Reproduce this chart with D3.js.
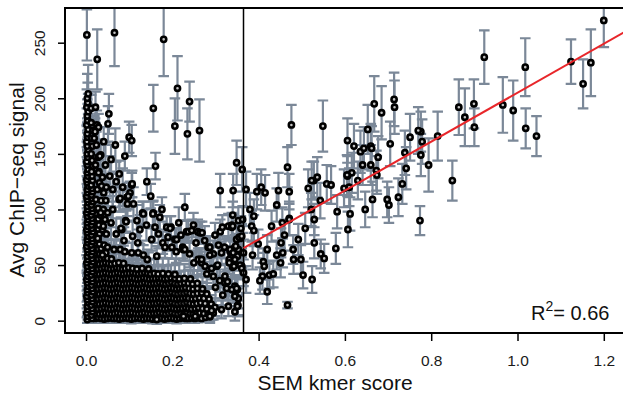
<!DOCTYPE html>
<html>
<head>
<meta charset="utf-8">
<script src="https://cdn.jsdelivr.net/npm/d3@7"></script>
<style>
  body { margin: 0; background: #fff; }
  svg { display: block; font-family: "Liberation Sans", Arial, Helvetica, sans-serif; }
</style>
</head>
<body>
<svg id="chart" width="623" height="393"></svg>
<script>
// each entry: [SEM kmer score, avg ChIP-seq signal, standard error]

// dense low-signal cluster, read row by row off the black mass
const massPts = [
  [0.021,2,4],[0.028,2.5,3],[0.035,2,4],[0.042,1.5,3],[0.049,2,4],[0.056,2.5,4],[0.063,2,3],[0.070,2,4],[0.077,1.5,3],[0.084,2,4],[0.091,2.5,4],[0.098,2,3],[0.105,1.5,4],[0.112,2,3],[0.119,2.5,4],[0.126,2,4],[0.133,1.5,3],[0.140,2,4],[0.147,2,3],[0.154,1.5,4],[0.161,2,4],[0.168,2.5,3],[0.175,2,4],[0.182,1.5,3],[0.189,2,4],[0.196,2.5,4],[0.203,2,3],[0.210,1.5,4],[0.217,2,4],[0.224,2.5,3],[0.231,2,4],[0.238,2,4],[0.245,2.5,3],[0.252,2,4],[0.260,2.5,4],[0.268,2,3],[0.277,3,4],[0.287,3.5,4],
  [0.024,6.5,5],[0.031,6,4],[0.038,6.5,5],[0.045,7,5],[0.052,6.5,4],[0.059,6,5],[0.066,6.5,5],[0.073,7,4],[0.080,6.5,5],[0.087,6,5],[0.094,6.5,4],[0.101,6.5,5],[0.108,7,5],[0.115,6.5,4],[0.122,6,5],[0.129,6.5,5],[0.136,7,4],[0.143,6.5,5],[0.150,6,5],[0.157,6.5,4],[0.164,6.5,5],[0.171,7,5],[0.178,6.5,4],[0.185,6,5],[0.192,6.5,5],[0.199,7,4],[0.206,6.5,5],[0.213,6,5],[0.220,6.5,4],[0.227,6.5,5],[0.234,7,5],[0.241,6.5,4],[0.248,6,5],[0.256,6.5,5],[0.264,7,5],[0.273,6.5,5],[0.283,6,5],[0.295,7,6],
  [0.021,11,6],[0.028,10.5,5],[0.035,11,6],[0.042,11.5,6],[0.049,11,5],[0.056,10.5,6],[0.063,11,6],[0.070,11.5,5],[0.077,11,6],[0.084,10.5,6],[0.091,11,5],[0.098,11,6],[0.105,11.5,6],[0.112,11,5],[0.119,10.5,6],[0.126,11,6],[0.133,11.5,5],[0.140,11,6],[0.147,10.5,6],[0.154,11,5],[0.161,11,6],[0.168,11.5,6],[0.175,11,5],[0.182,10.5,6],[0.189,11,6],[0.196,11.5,5],[0.203,11,6],[0.210,10.5,6],[0.217,11,5],[0.224,11,6],[0.231,11.5,6],[0.238,11,5],[0.245,10.5,6],[0.253,11,6],[0.261,11.5,6],[0.270,11,6],[0.280,10.5,6],
  [0.024,15.5,7],[0.031,15,6],[0.038,15.5,7],[0.045,16,7],[0.052,15.5,6],[0.059,15,7],[0.066,15.5,7],[0.073,16,6],[0.080,15.5,7],[0.087,15,7],[0.094,15.5,6],[0.101,15.5,7],[0.108,16,7],[0.115,15.5,6],[0.122,15,7],[0.129,15.5,7],[0.136,16,6],[0.143,15.5,7],[0.150,15,7],[0.157,15.5,6],[0.164,15.5,7],[0.171,16,7],[0.178,15.5,6],[0.185,15,7],[0.192,15.5,7],[0.199,16,6],[0.206,15.5,7],[0.213,15,7],[0.220,15.5,6],[0.227,15.5,7],[0.234,16,7],[0.241,15.5,6],[0.249,15,7],[0.257,15.5,7],[0.266,16,7],[0.276,15.5,7],[0.290,15,8],
  [0.021,20,8],[0.028,19.5,7],[0.035,20,8],[0.042,20.5,8],[0.049,20,7],[0.056,19.5,8],[0.063,20,8],[0.070,20.5,7],[0.077,20,8],[0.084,19.5,8],[0.091,20,7],[0.098,20,8],[0.105,20.5,8],[0.112,20,7],[0.119,19.5,8],[0.126,20,8],[0.133,20.5,7],[0.140,20,8],[0.147,19.5,8],[0.154,20,7],[0.161,20,8],[0.168,20.5,8],[0.175,20,7],[0.182,19.5,8],[0.189,20,8],[0.196,20.5,7],[0.203,20,8],[0.210,19.5,8],[0.217,20,7],[0.224,20,8],[0.231,20.5,8],[0.238,20,7],[0.246,19.5,8],[0.254,20,8],[0.263,20.5,8],[0.273,20,8],[0.285,19.5,9],
  [0.024,24.5,9],[0.031,24,8],[0.038,24.5,9],[0.045,25,9],[0.052,24.5,8],[0.059,24,9],[0.066,24.5,9],[0.073,25,8],[0.080,24.5,9],[0.087,24,9],[0.094,24.5,8],[0.101,24.5,9],[0.108,25,9],[0.115,24.5,8],[0.122,24,9],[0.129,24.5,9],[0.136,25,8],[0.143,24.5,9],[0.150,24,9],[0.157,24.5,8],[0.164,24.5,9],[0.171,25,9],[0.178,24.5,8],[0.185,24,9],[0.192,24.5,9],[0.199,25,8],[0.206,24.5,9],[0.213,24,9],[0.220,24.5,8],[0.227,24.5,9],[0.234,25,9],[0.241,24.5,8],[0.249,24,9],[0.258,24.5,9],[0.268,25,10],[0.280,24,10],
  [0.021,29,10],[0.028,28.5,9],[0.035,29,10],[0.042,29.5,10],[0.049,29,9],[0.056,28.5,10],[0.063,29,10],[0.070,29.5,9],[0.077,29,10],[0.084,28.5,10],[0.091,29,9],[0.098,29,10],[0.105,29.5,10],[0.112,29,9],[0.119,28.5,10],[0.126,29,10],[0.133,29.5,9],[0.140,29,10],[0.147,28.5,10],[0.154,29,9],[0.161,29,10],[0.168,29.5,10],[0.175,29,9],[0.182,28.5,10],[0.189,29,10],[0.196,29.5,9],[0.203,29,10],[0.210,28.5,10],[0.217,29,9],[0.224,29,10],[0.231,29.5,10],[0.239,29,10],[0.248,28.5,10],[0.258,29,11],[0.270,28.5,11],
  [0.024,33.5,11],[0.031,33,10],[0.038,33.5,11],[0.045,34,11],[0.052,33.5,10],[0.059,33,11],[0.066,33.5,11],[0.073,34,10],[0.080,33.5,11],[0.087,33,11],[0.094,33.5,10],[0.101,33.5,11],[0.108,34,11],[0.115,33.5,10],[0.122,33,11],[0.129,33.5,11],[0.136,34,10],[0.143,33.5,11],[0.150,33,11],[0.157,33.5,10],[0.164,33.5,11],[0.171,34,11],[0.178,33.5,10],[0.185,33,11],[0.192,33.5,11],[0.199,34,10],[0.206,33.5,11],[0.213,33,11],[0.220,33.5,11],[0.228,34,11],[0.237,33.5,12],[0.247,33,12],[0.258,33.5,12],
  [0.021,38,12],[0.028,37.5,11],[0.035,38,12],[0.042,38.5,12],[0.049,38,11],[0.056,37.5,12],[0.063,38,12],[0.070,38.5,11],[0.077,38,12],[0.084,37.5,12],[0.091,38,11],[0.098,38,12],[0.105,38.5,12],[0.112,38,11],[0.119,37.5,12],[0.126,38,12],[0.133,38.5,11],[0.140,38,12],[0.147,37.5,12],[0.154,38,11],[0.161,38,12],[0.168,38.5,12],[0.175,38,11],[0.182,37.5,12],[0.189,38,12],[0.197,38.5,12],[0.206,38,12],[0.216,37.5,13],[0.228,38,13],[0.242,37.5,13],
  [0.024,42.5,13],[0.031,42,12],[0.038,42.5,13],[0.045,43,13],[0.052,42.5,12],[0.059,42,13],[0.066,42.5,13],[0.073,43,12],[0.080,42.5,13],[0.087,42,13],[0.094,42.5,12],[0.101,42.5,13],[0.108,43,13],[0.115,42.5,12],[0.122,42,13],[0.129,42.5,13],[0.136,43,12],[0.143,42.5,13],[0.150,42,13],[0.158,42.5,13],[0.167,42,14],[0.178,42.5,14],[0.191,42,14],[0.206,41.5,14],
  [0.021,47,14],[0.028,46.5,13],[0.035,47,14],[0.042,47.5,14],[0.049,47,13],[0.056,46.5,14],[0.063,47,14],[0.070,47.5,13],[0.077,47,14],[0.084,46.5,14],[0.091,47,14],[0.099,47.5,14],[0.108,47,15],[0.118,46.5,15],[0.130,47,15],[0.145,46.5,15],
  [0.024,51.5,15],[0.031,51,14],[0.038,51.5,15],[0.045,52,15],[0.052,51.5,15],[0.059,51,15],[0.067,51.5,16],[0.076,52,16],[0.087,51.5,16],
  [0.021,56,16],[0.028,55.5,15],[0.035,56,16],[0.042,56.5,16],[0.050,56,17],[0.059,55.5,17],
  [0.024,60.5,17],[0.031,60,17],[0.038,60.5,18],[0.046,61,18],
  [0.021,65,18],[0.028,64.5,18],[0.035,65,19],
  [0.024,69.5,19],[0.031,69,19],
  [0.021,74,20],[0.028,73.5,20],
  [0.024,78.5,20],[0.031,78,21],
  [0.021,83,21],[0.028,82.5,21],
  [0.024,87.5,22],[0.031,87,22],
  [0.021,92,22],[0.028,91.5,22],
  [0.024,96.5,22],[0.031,99,23]
];

// tall column of points at a score of about zero (two stacks)
const colPts = [
  [0.003,1,3],[0.004,4,3],[0.002,7,4],[0.004,10,4],[0.003,13,5],[0.005,16,5],[0.003,19,5],[0.002,22,5],[0.004,25,5],[0.003,28,6],[0.005,31,6],[0.003,34,6],[0.002,37,6],[0.004,40,6],[0.003,43,6],[0.005,46,7],[0.003,49,7],[0.002,52,7],[0.004,55,7],[0.003,58,7],[0.005,61,8],[0.003,64,8],[0.002,67,8],[0.004,70,8],[0.003,73,8],[0.005,76,9],[0.003,79,9],[0.002,82,9],[0.004,85,9],[0.003,88,9],[0.005,91,10],[0.003,94,10],[0.002,97,10],[0.004,100,10],[0.003,103,10],[0.005,106,11],[0.003,109,11],[0.002,112,11],[0.004,115,11],[0.003,118,11],[0.005,121,12],[0.003,124,12],[0.002,127,12],[0.004,130,12],[0.003,133,12],[0.005,136,12],[0.003,140,13],[0.002,143,13],[0.004,147,13],[0.003,150,13],[0.005,154,13],[0.003,157,14],[0.002,161,14],[0.004,165,14],[0.003,168,14],[0.005,172,14],[0.002,176,15],[0.004,180,15],[0.003,184,15],[0.005,188,16],[0.002,192,16],[0.004,196,18],[0.003,200,22],[0.005,204,26],
  [0.014,2,3],[0.013,5,4],[0.015,8,4],[0.014,11,4],[0.012,14,5],[0.015,17,5],[0.014,20,5],[0.013,23,5],[0.016,26,6],[0.014,29,6],[0.013,32,6],[0.015,35,6],[0.014,38,6],[0.012,41,7],[0.015,44,7],[0.014,47,7],[0.013,50,7],[0.016,53,7],[0.014,56,8],[0.013,59,8],[0.015,62,8],[0.014,65,8],[0.012,68,8],[0.015,71,9],[0.014,74,9],[0.013,77,9],[0.016,80,9],[0.014,83,9],[0.013,86,10],[0.015,89,10],[0.014,92,10],[0.012,95,10],[0.015,98,10],[0.014,101,11],[0.013,104,11],[0.016,107,11],[0.014,110,11],[0.013,113,11],[0.015,116,12],[0.014,119,12],[0.012,122,12],[0.015,126,12],[0.014,130,12],[0.013,134,13],[0.016,139,13],[0.014,144,13],[0.012,150,14],[0.015,157,14],[0.013,164,14],[0.016,171,13],[0.012,178,13],[0.019,164,14],[0.012,191,12]
];

// scattered points just above the cluster
const haloPts = [
  [0.022,192,14],[0.025,176,13],[0.029,174,12],[0.021,170,12],[0.024,158,12],[0.028,147,11],[0.022,140,11],[0.031,124,10],[0.026,118,10],[0.023,109,9],[0.035,108,9],[0.028,101,9],[0.040,100,9],[0.033,95,9],[0.044,91,8],[0.030,86,8],[0.038,82,8],[0.047,78,8],[0.027,74,7],[0.042,68,7],[0.050,66,7],[0.038,59,7],
  [0.041,161,13],[0.034,149,12],[0.032,148,12],[0.030,134,11],[0.029,133,11],[0.036,121,11],[0.041,115,10],[0.038,129,11],[0.047,120,10],[0.050,97,10],
  [0.045,140,20],[0.055,130,18],[0.062,118,16],[0.070,125,18],[0.085,120,17],[0.110,105,15],[0.118,90,14],[0.125,82,13],[0.140,86,14],[0.160,84,14],[0.168,78,13],[0.120,70,12],[0.108,76,13],[0.088,72,12],[0.070,78,14],[0.058,88,15],[0.062,100,16],[0.046,108,15],
  [0.215,88,14],[0.220,77,13],[0.255,70,12],[0.275,72,13],[0.295,60,12],[0.190,75,12],[0.240,60,12],[0.250,52,11],[0.280,42,11],[0.295,40,10],[0.300,30,10],[0.310,36,10],
  [0.077,132,12],[0.106,122,11],[0.102,115,10],[0.095,111,10],[0.077,109,11],[0.079,110,12],[0.098,112,12],[0.096,105,11],
  [0.229,102,12],[0.176,100,11],[0.156,97,11],[0.131,97,10],[0.133,96,11],[0.155,96,11],[0.171,93,11],[0.092,90,10],[0.093,89,10],[0.083,82,10],[0.040,85,10],[0.034,97,10],[0.081,83,10],
  [0.187,84,10],[0.197,84,10],[0.195,83,11],[0.249,86,11],[0.233,80,10],[0.237,80,10],[0.245,81,10],[0.259,80,11],[0.264,79,10],[0.269,79,10],[0.299,77,11],
  [0.065,64,9],[0.079,64,9],[0.090,62,9],[0.106,61,9],[0.121,61,9],[0.133,59,9],[0.142,55,9],[0.164,58,9],
  [0.152,73,10],[0.178,70,10],[0.206,73,10],[0.210,73,10],[0.183,66,10],[0.199,66,10],[0.209,62,10],[0.224,66,10],[0.225,64,10],[0.229,64,10],
  [0.264,55,10],[0.268,52,10],[0.260,55,10],[0.268,55,10],[0.276,49,10],[0.283,66,10],[0.287,66,10],[0.287,59,10],[0.291,47,10],[0.303,49,10],[0.305,50,10],
  [0.307,68,11],[0.314,61,10],[0.321,66,10],[0.334,62,10],[0.334,64,10],[0.345,66,11],[0.353,64,10],[0.336,57,10],[0.332,55,10],[0.351,58,10],[0.345,55,10],[0.332,52,10],[0.340,48,10],[0.359,49,10],[0.361,49,10],
  [0.322,40,10],[0.322,34,10],[0.326,29,10],[0.328,35,10],[0.351,28,10],[0.345,31,10],[0.338,28,10],[0.317,23,9],[0.347,22,9],[0.353,20,9],[0.352,14,9],[0.351,13,9],[0.330,13,9],[0.345,8,8],[0.314,10,8],[0.299,12,8],[0.291,9,8],[0.287,4,6],[0.253,4,5],[0.226,4,5],[0.164,1,4],
  [0.311,80,11],[0.316,84,11],[0.330,85,11],[0.338,84,11],[0.338,86,11],[0.353,90,12],[0.359,83,11],[0.357,74,11],
  [0.340,95,12],[0.340,85,11],[0.349,73,11],[0.355,75,11],[0.361,76,11],[0.347,67,10],[0.341,61,10],[0.357,50,10],[0.343,49,10],[0.361,47,10],[0.363,91,12],[0.349,29,9],[0.345,22,9],[0.351,13,9]
];

// high-signal points left of the cutoff
const sparsePts = [
  [0.002,257,23],[0.066,259,30],[0.026,235,27],[0.180,253,33],[0.212,209,29],[0.240,197,18],[0.156,191,21],[0.206,175,25],[0.235,168,23],[0.263,171,28],
  [0.053,186,18],[0.051,177,16],[0.068,158,15],[0.100,165,14],[0.106,162,14],[0.090,148,13],[0.058,145,13],[0.161,139,12],[0.141,125,12],[0.150,112,11],[0.107,123,12],
  [0.311,117,15],[0.341,117,15],[0.349,142,20],[0.362,136,20]
];

// points right of the cutoff, following the fitted trend
const trendPts = [
  [1.200,270,24],[1.124,233,20],[1.152,213,22],[1.170,232,30],[0.923,237,24],[1.018,228,26],[0.966,194,25],[0.990,189,27],[1.019,173,18],[1.044,166,18],
  [0.864,192,25],[0.878,183,26],[0.899,195,22],[0.900,174,17],[0.815,166,22],[0.779,161,20],[0.776,170,18],[0.776,149,19],[0.794,140,24],[0.849,126,18],[0.774,90,13],
  [0.549,175,23],[0.668,195,25],[0.685,187,24],[0.714,199,24],[0.715,192,24],[0.653,172,22],[0.606,162,20],[0.621,157,20],[0.636,152,19],[0.644,155,19],[0.660,157,20],[0.662,155,20],[0.677,147,19],[0.705,159,20],
  [0.641,140,18],[0.660,140,18],[0.673,135,18],[0.674,131,17],[0.616,133,18],[0.606,130,18],[0.630,126,17],[0.598,119,17],[0.610,120,17],[0.751,165,21],[0.770,171,21],[0.739,151,20],[0.742,137,19],[0.733,123,18],[0.724,111,17],
  [0.515,119,17],[0.528,126,17],[0.536,129,18],[0.558,123,17],[0.568,122,17],[0.543,108,16],[0.664,109,16],[0.698,109,16],[0.605,131,18],
  [0.476,176,18],[0.467,138,18],[0.371,118,16],[0.396,116,16],[0.406,120,16],[0.415,115,16],[0.446,117,16],[0.471,116,16],[0.523,126,17],[0.442,104,15],[0.380,100,15],[0.389,94,15],[0.471,92,15],
  [0.522,100,15],[0.582,98,15],[0.612,96,15],[0.647,100,16],[0.702,104,16],
  [0.607,82,16],[0.579,65,14],[0.552,56,13],[0.544,60,13],[0.529,70,14],[0.529,91,14],[0.508,83,14],[0.492,73,14],[0.498,55,13],[0.481,55,13],[0.480,64,13],[0.503,41,12],[0.524,37,12],
  [0.460,77,14],[0.455,88,14],[0.471,91,14],[0.430,85,14],[0.452,70,13],[0.456,61,13],[0.442,59,13],[0.451,52,13],[0.420,64,13],[0.411,53,12],[0.413,49,12],[0.409,40,12],[0.425,41,12],[0.434,42,12],
  [0.403,36,12],[0.420,26,11],[0.467,14,3],[0.399,69,13],[0.386,59,13],[0.371,37,12],[0.365,43,12],[0.365,61,12],[0.384,85,14],[0.389,81,14]
];

const xTicks = [0, 0.2, 0.4, 0.6, 0.8, 1.0, 1.2];
const yTicks = [0, 50, 100, 150, 200, 250];
const cutoff = 0.365;
const fit = { intercept: -15, slope: 220 };
const rSquared = "0.66";

const svg = d3.select("#chart");
const box = { left: 65, top: 8, right: 640, bottom: 333 };

const x = d3.scaleLinear().domain([-0.0487, 1.2839]).range([box.left, box.right]);
const y = d3.scaleLinear().domain([-11.1, 281.2]).range([box.bottom, box.top]);

svg.append("clipPath").attr("id", "plotClip")
  .append("rect")
  .attr("x", box.left).attr("y", box.top)
  .attr("width", box.right - box.left).attr("height", box.bottom - box.top);

const plot = svg.append("g").attr("clip-path", "url(#plotClip)");

const points = [].concat(massPts, colPts, haloPts, sparsePts, trendPts);

// error bars first, points on top
const cap = 5.3;
plot.append("g")
  .selectAll("path")
  .data(points)
  .join("path")
  .attr("d", d => {
    const cx = x(d[0]), lo = y(d[1] - d[2]), hi = y(d[1] + d[2]);
    return `M${cx},${lo}V${hi}M${cx - cap},${hi}H${cx + cap}M${cx - cap},${lo}H${cx + cap}`;
  })
  .attr("fill", "none")
  .attr("stroke", "#7b8898")
  .attr("stroke-width", 2.2);

// thick black rings with small grey centres
plot.append("g")
  .selectAll("circle")
  .data(points)
  .join("circle")
  .attr("cx", d => x(d[0]))
  .attr("cy", d => y(d[1]))
  .attr("r", 2.6)
  .attr("fill", "#c4c4c4")
  .attr("stroke", "#000")
  .attr("stroke-width", 2.6);

// cutoff line and fitted line
plot.append("line")
  .attr("x1", x(cutoff)).attr("x2", x(cutoff))
  .attr("y1", box.top).attr("y2", box.bottom)
  .attr("stroke", "#000").attr("stroke-width", 1.5);

const fitEnd = 1.3;
plot.append("line")
  .attr("x1", x(cutoff)).attr("y1", y(fit.intercept + fit.slope * cutoff))
  .attr("x2", x(fitEnd)).attr("y2", y(fit.intercept + fit.slope * fitEnd))
  .attr("stroke", "#e8262a").attr("stroke-width", 2);

// box (right side falls outside the picture)
svg.append("path")
  .attr("d", `M${box.right},${box.top}H${box.left}V${box.bottom}H${box.right}`)
  .attr("fill", "none").attr("stroke", "#000").attr("stroke-width", 2);

// axes
const xAxis = svg.append("g")
  .attr("transform", `translate(0,${box.bottom})`)
  .call(d3.axisBottom(x).tickValues(xTicks).tickFormat(d3.format(".1f")).tickSize(8));
xAxis.select(".domain").remove();
xAxis.selectAll("line").attr("stroke", "#000").attr("stroke-width", 1.5);
xAxis.selectAll("text")
  .attr("y", 33).attr("dy", 0)
  .attr("fill", "#1a1a1a")
  .style("font-size", "15.5px")
  .style("font-family", "'Liberation Sans', Arial, sans-serif");

const yAxis = svg.append("g")
  .attr("transform", `translate(${box.left},0)`)
  .call(d3.axisLeft(y).tickValues(yTicks).tickSize(7));
yAxis.select(".domain").remove();
yAxis.selectAll("line").attr("stroke", "#000").attr("stroke-width", 1.5);
yAxis.selectAll("text")
  .attr("transform", "rotate(-90)")
  .attr("x", 0).attr("y", -20).attr("dy", 0)
  .attr("text-anchor", "middle")
  .attr("fill", "#1a1a1a")
  .style("font-size", "15.5px")
  .style("font-family", "'Liberation Sans', Arial, sans-serif");

// titles
svg.append("text")
  .attr("x", 335).attr("y", 390)
  .attr("text-anchor", "middle")
  .style("font-size", "21px")
  .attr("fill", "#111")
  .text("SEM kmer score");

svg.append("text")
  .attr("transform", "translate(24,180) rotate(-90)")
  .attr("text-anchor", "middle")
  .style("font-size", "21px")
  .attr("fill", "#111")
  .text("Avg ChIP\u2212seq signal");

const r2 = svg.append("text")
  .attr("x", 531).attr("y", 320)
  .style("font-size", "20px")
  .attr("fill", "#111");
r2.append("tspan").text("R");
r2.append("tspan").attr("dy", -9).style("font-size", "14px").text("2");
r2.append("tspan").attr("dy", 9).text("= " + rSquared);
</script>
</body>
</html>
